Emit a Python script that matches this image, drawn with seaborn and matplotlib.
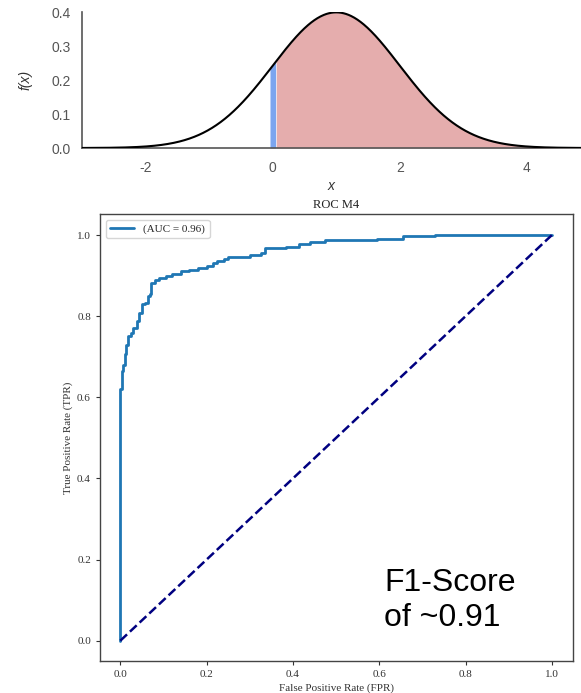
import numpy as np
import pandas as pd
import matplotlib
matplotlib.use("Agg")
import matplotlib.pyplot as plt
import seaborn as sns

# density panel: normal distribution, shaded from the cut point
mu = 1.0
sigma = 1.0
cut = 0.0
x_min, x_max = -3.0, 4.85

# ROC curve points
fpr = [0.0, 0.0, 0.003, 0.006, 0.010, 0.014, 0.018, 0.024, 0.030, 0.038,
       0.044, 0.050, 0.058, 0.064, 0.068, 0.072, 0.080, 0.090, 0.105, 0.120,
       0.140, 0.160, 0.180, 0.200, 0.215, 0.225, 0.240, 0.250, 0.300, 0.325,
       0.335, 0.385, 0.415, 0.440, 0.475, 0.595, 0.655, 0.730, 1.0]
tpr = [0.0, 0.620, 0.665, 0.680, 0.706, 0.730, 0.751, 0.759, 0.772, 0.788,
       0.809, 0.829, 0.833, 0.850, 0.854, 0.883, 0.889, 0.895, 0.900, 0.905,
       0.911, 0.915, 0.919, 0.924, 0.930, 0.936, 0.942, 0.946, 0.950, 0.956,
       0.967, 0.970, 0.977, 0.984, 0.989, 0.991, 0.997, 1.0, 1.0]
auc_label = "(AUC = 0.96)"
roc_title = "ROC M4"
note = "F1-Score\nof ~0.91"

sns.set_theme(style="ticks")
plt.rcParams['font.family'] = ['Liberation Sans', 'DejaVu Sans']
plt.rcParams['axes.unicode_minus'] = False

fig = plt.figure(figsize=(5.81, 6.93), dpi=100)

# --- top: density ---
ax1 = fig.add_axes([82 / 581, 1 - 148 / 693, 1 - 82 / 581, 136 / 693])
xs = np.linspace(x_min, x_max, 800)
pdf = np.exp(-0.5 * ((xs - mu) / sigma) ** 2) / (sigma * np.sqrt(2 * np.pi))
dens = pd.DataFrame({"x": xs, "f": pdf})
sns.lineplot(data=dens, x="x", y="f", color="black", lw=1.5, ax=ax1, zorder=3)
right = dens[dens["x"] >= cut + 0.05]
ax1.fill_between(right["x"], right["f"], color="indianred", alpha=0.5, lw=0)
band = dens[(dens["x"] >= cut - 0.05) & (dens["x"] <= cut + 0.055)]
ax1.fill_between(band["x"], band["f"], color="cornflowerblue", alpha=0.85, lw=0)
ax1.set_xlim(x_min, x_max)
ax1.set_ylim(0, 0.4)
ax1.set_xticks([-2, 0, 2, 4])
ax1.set_yticks([0.0, 0.1, 0.2, 0.3, 0.4])
ax1.set_yticklabels(["0.0", "0.1", "0.2", "0.3", "0.4"])
ax1.tick_params(length=0, labelsize=10, labelcolor="#555555")
ax1.tick_params(axis="x", pad=9)
ax1.tick_params(axis="y", pad=8)
ax1.set_xlabel("x", fontsize=10, style="italic", color="#333333", labelpad=3)
ax1.set_ylabel("f(x)", fontsize=10, style="italic", color="#333333", labelpad=14)
sns.despine(ax=ax1)
for s in ["left", "bottom"]:
    ax1.spines[s].set_color("#555555")
    ax1.spines[s].set_linewidth(1.2)

# --- bottom: ROC ---
serif = ['Liberation Serif', 'DejaVu Serif']
ax2 = fig.add_axes([100 / 581, 1 - 661 / 693, 473 / 581, 447 / 693])
roc = pd.DataFrame({"fpr": fpr, "tpr": tpr})
sns.lineplot(data=roc, x="fpr", y="tpr", sort=False, estimator=None,
             color="#1f77b4", lw=2, drawstyle="steps-post", label=auc_label, ax=ax2)
sns.lineplot(x=[0, 1], y=[0, 1], color="navy", lw=1.8, linestyle="--", ax=ax2)
ax2.set_xlim(-0.047, 1.049)
ax2.set_ylim(-0.05, 1.052)
ax2.set_xticks([0.0, 0.2, 0.4, 0.6, 0.8, 1.0])
ax2.set_yticks([0.0, 0.2, 0.4, 0.6, 0.8, 1.0])
ax2.set_xticklabels(["0.0", "0.2", "0.4", "0.6", "0.8", "1.0"], family=serif)
ax2.set_yticklabels(["0.0", "0.2", "0.4", "0.6", "0.8", "1.0"], family=serif)
ax2.tick_params(labelsize=8, labelcolor="#333333", length=3, width=0.8, color="#333333")
ax2.set_xlabel("False Positive Rate (FPR)", family=serif, fontsize=8, color="#333333", labelpad=3)
ax2.set_ylabel("True Positive Rate (TPR)", family=serif, fontsize=8, color="#333333", labelpad=3)
ax2.set_title(roc_title, family=serif, fontsize=9, color="#222222", pad=4)
for s in ax2.spines.values():
    s.set_color("#444444")
    s.set_linewidth(1.0)
leg = ax2.legend(loc="upper left", prop={"family": serif, "size": 8}, handlelength=2.2)
ax2.text(0.612, 0.179, note, fontsize=23, color="black", va="top", ha="left",
         family=['Liberation Sans', 'DejaVu Sans'], linespacing=1.2)

fig.savefig("out.png", dpi=100)
